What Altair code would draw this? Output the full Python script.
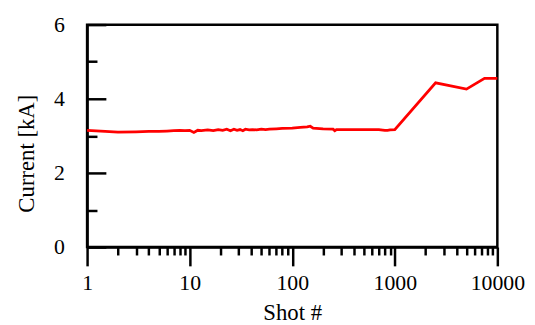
import altair as alt
import pandas as pd

shots = [1, 1.5, 2, 3, 4, 5, 6, 7, 8, 9, 10, 11, 12, 13, 15, 17, 19, 21, 23, 25,
         27, 29, 31, 33, 35, 38, 41, 45, 50, 55, 60, 70, 80, 100, 120, 140, 150,
         160, 200, 250, 260, 270, 300, 400, 500, 700, 800, 850, 900, 1000, 2500,
         5000, 7500, 10000]
current = [3.15, 3.12, 3.10, 3.11, 3.12, 3.12, 3.13, 3.14, 3.15, 3.14, 3.15, 3.09,
           3.15, 3.14, 3.16, 3.14, 3.17, 3.15, 3.18, 3.14, 3.18, 3.15, 3.17, 3.14,
           3.18, 3.16, 3.17, 3.16, 3.18, 3.17, 3.18, 3.19, 3.20, 3.21, 3.23, 3.24,
           3.26, 3.21, 3.19, 3.18, 3.14, 3.17, 3.17, 3.17, 3.17, 3.17, 3.15, 3.15,
           3.16, 3.17, 4.43, 4.26, 4.55, 4.55]

x_major = [1, 10, 100, 1000, 10000]
x_minor = [m * d for d in [1, 10, 100, 1000] for m in range(2, 10)]
y_major = [0, 2, 4, 6]
y_minor = [1, 3, 5]

df = pd.DataFrame({"shot": shots, "current": current})

W, H = 415, 225
FONT = "Liberation Serif"
xscale = alt.Scale(type="log", domain=[1, 10000], nice=False)
yscale = alt.Scale(domain=[0, 6], nice=False, zero=False)

base = alt.Chart(df)

main = base.mark_line(color="#ff0000", strokeWidth=2.8).encode(
    x=alt.X("shot:Q", scale=xscale, title="Shot #",
            axis=alt.Axis(orient="bottom", values=x_major, format="d", tickSize=19,
                          tickWidth=2.5, tickColor="black", domainColor="black",
                          domainWidth=2.5, labelFont=FONT, labelFontSize=22,
                          labelColor="black", labelPadding=7, grid=False,
                          titleFont=FONT, titleFontSize=23, titleFontWeight="normal",
                          titleColor="black", titleBaseline="alphabetic", titleY=73,
                          labelFlush=False, labelOverlap=False)),
    y=alt.Y("current:Q", scale=yscale, title="Current [kA]",
            axis=alt.Axis(orient="left", values=y_major, ticks=False, labelPadding=23,
                          domainColor="black", domainWidth=2.5, labelFont=FONT,
                          labelFontSize=22, labelColor="black", grid=False,
                          titleFont=FONT, titleFontSize=23, titleFontWeight="normal",
                          titleColor="black", titleBaseline="alphabetic",
                          titleAngle=270, titleAlign="center", titleX=-54, titleY=130,
                          labelFlush=False, labelOverlap=False)),
)

minor_a = base.mark_line(opacity=0).encode(
    x=alt.X("shot:Q", scale=xscale, title=None,
            axis=alt.Axis(orient="bottom", values=x_minor, tickSize=8, tickWidth=2.5,
                          tickColor="black", labels=False, domain=False, grid=False)),
    y=alt.Y("current:Q", scale=yscale, title=None,
            axis=alt.Axis(orient="right", offset=-W, values=y_major, tickSize=19,
                          tickWidth=2.5, tickColor="black", labels=False, domain=False,
                          grid=False)),
)

minor_b = base.mark_line(opacity=0).encode(
    x=alt.X("shot:Q", scale=xscale, axis=None),
    y=alt.Y("current:Q", scale=yscale, title=None,
            axis=alt.Axis(orient="right", offset=-W, values=y_minor, tickSize=10,
                          tickWidth=2.5, tickColor="black", labels=False, domain=False,
                          grid=False)),
)

chart = (
    alt.layer(main, minor_a, minor_b)
    .resolve_axis(x="independent", y="independent")
    .properties(width=W, height=H, autosize=alt.AutoSizeParams(type="none"),
                padding={"left": 80, "top": 15, "right": 30, "bottom": 77},
                background="white")
    .configure_view(stroke="black", strokeWidth=2.5)
)

chart.save("out.html", embed_options={"renderer": "svg", "actions": False})
